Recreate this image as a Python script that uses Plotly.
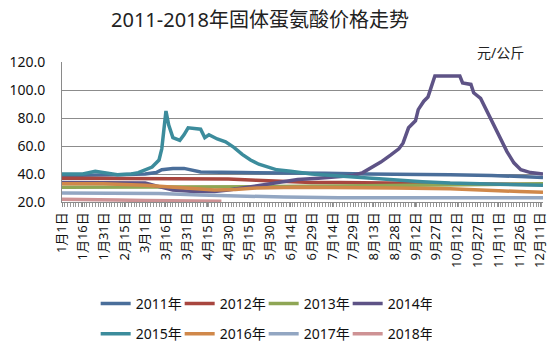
import plotly.graph_objects as go

# x = day index within year (0 = 1月1日), 15-day label interval
tick_days = [0, 15, 30, 45, 60, 75, 90, 105, 120, 135, 150, 165, 180, 195, 210, 225, 240, 255, 270, 285, 300, 315, 330, 345]
tick_labels = ["1月1日", "1月16日", "1月31日", "2月15日", "3月1日", "3月16日", "3月31日", "4月15日",
               "4月30日", "5月15日", "5月30日", "6月14日", "6月29日", "7月14日", "7月29日", "8月13日",
               "8月28日", "9月12日", "9月27日", "10月12日", "10月27日", "11月11日", "11月26日", "12月11日"]

d2011 = [0, 20, 40, 60, 68, 72, 76, 80, 88, 94, 100, 130, 160, 190, 220, 250, 280, 310, 330, 347]
v2011 = [39, 39, 39.5, 40, 41, 43, 43.5, 44, 44, 42.5, 41.5, 41, 41, 40.5, 40, 40, 39.5, 39, 38.5, 37.5]

d2012 = [0, 40, 80, 120, 140, 160, 180, 200, 240, 280, 320, 347]
v2012 = [37, 37, 37, 36.5, 35.5, 34.5, 34, 34, 33.5, 33, 33, 32.5]

d2013 = [0, 50, 100, 150, 200, 250, 300, 347]
v2013 = [30.5, 30.5, 31, 31, 31.5, 32, 32.5, 33]

d2014 = [0, 30, 60, 70, 80, 95, 110, 120, 130, 140, 155, 170, 185, 200, 210, 217, 224, 230, 237, 243,
         246, 250, 255, 257, 261, 264, 266, 269, 287, 289, 295, 297, 302, 307, 311, 316, 321, 326, 331, 338, 347]
v2014 = [34, 34, 33.5, 31, 28.5, 27.5, 27.5, 28.5, 30, 32, 34, 36, 37, 38, 39, 41, 45, 48.5, 53.5, 58,
         62, 73, 78, 86, 92, 95, 101, 110, 110, 105, 104, 98, 94, 84, 76, 66, 56, 48, 43, 41, 40]

d2015 = [0, 15, 24, 30, 40, 50, 55, 60, 65, 70, 72, 75, 77, 80, 85, 88, 91, 100, 103, 106, 112, 118, 124,
         130, 136, 142, 148, 155, 165, 180, 200, 220, 240, 260, 280, 300, 320, 347]
v2015 = [40, 40, 42, 41, 39.5, 40, 41, 43, 45, 50, 58, 85, 75, 66, 64, 68, 73, 72, 66, 68, 65, 63, 59,
         54, 50, 47, 45, 43, 42, 40, 38.5, 37, 35.5, 34.5, 33.5, 33, 32.5, 32]

d2016 = [0, 30, 60, 80, 95, 110, 125, 140, 170, 200, 240, 280, 300, 315, 330, 347]
v2016 = [33, 33, 32, 30.5, 29, 28.5, 29, 30, 30.5, 30.5, 30, 29.5, 29, 28, 27.5, 27]

d2017 = [0, 40, 70, 100, 130, 160, 200, 250, 300, 347]
v2017 = [26.5, 26.5, 26, 25, 24, 23.5, 23, 23, 23, 23]

d2018 = [0, 20, 40, 60, 80, 100, 115]
v2018 = [22, 22, 21.5, 21, 21, 20.5, 20.5]

series = [
    ("2011年", d2011, v2011, "#4A6E9A", "legend"),
    ("2012年", d2012, v2012, "#A8463F", "legend"),
    ("2013年", d2013, v2013, "#8FA655", "legend"),
    ("2014年", d2014, v2014, "#5E5386", "legend"),
    ("2015年", d2015, v2015, "#3C8C9C", "legend2"),
    ("2016年", d2016, v2016, "#D0884A", "legend2"),
    ("2017年", d2017, v2017, "#92A6C2", "legend2"),
    ("2018年", d2018, v2018, "#CE9294", "legend2"),
]

FONT = "Noto Sans, Noto Sans CJK SC, sans-serif"

fig = go.Figure()
for name, xs, ys, col, lg in series:
    fig.add_trace(go.Scatter(x=xs, y=ys, name=name, mode="lines",
                             line=dict(color=col, width=3.5), legend=lg))

legend_common = dict(orientation="h", x=0.07, xanchor="left", yanchor="top", yref="container",
                     font=dict(size=14, family=FONT, color="#111"), entrywidth=39,
                     bgcolor="rgba(0,0,0,0)", itemwidth=30)

fig.update_layout(
    width=560, height=355,
    margin=dict(l=62, r=17, t=62, b=153, autoexpand=False),
    paper_bgcolor="white", plot_bgcolor="white",
    font=dict(family=FONT, color="#222222"),
    showlegend=True,
    legend=dict(y=0.189, **legend_common),
    legend2=dict(y=0.104, **legend_common),
    annotations=[
        dict(text="2011-2018年固体蛋氨酸价格走势", x=0.412, y=1.3, xref="paper", yref="paper",
             xanchor="center", yanchor="middle",
             showarrow=False, font=dict(size=20, family=FONT, color="#222")),
        dict(text="元/公斤", x=0.965, y=1.067, xref="paper", yref="paper", xanchor="right",
             yanchor="middle", showarrow=False, font=dict(size=14, family=FONT, color="#222")),
    ],
)

fig.update_xaxes(
    range=[0, 347], tickmode="array", tickvals=tick_days, ticktext=tick_labels,
    tickangle=-90, tickfont=dict(size=13, family=FONT, color="#111"), automargin=False,
    showgrid=False, zeroline=False, showline=True, linecolor="#8a8a8a", linewidth=1,
    ticks="outside", ticklen=4, tickcolor="#8a8a8a",
    minor=dict(ticks="outside", ticklen=4, tickcolor="#9a9a9a", dtick=2, tick0=0, showgrid=False),
)
fig.update_yaxes(
    range=[20, 120], tickmode="array", tickvals=[20, 40, 60, 80, 100, 120],
    ticktext=["20.0", "40.0", "60.0", "80.0", "100.0", "120.0"],
    tickfont=dict(size=14, family=FONT, color="#111"), automargin=False,
    showgrid=True, gridcolor="#8c8c8c", gridwidth=1, zeroline=False,
    showline=True, linecolor="#8a8a8a", linewidth=1, ticks="", ticklabelstandoff=13,
)

fig.write_html("out.html", config={"displayModeBar": False},
               post_script="document.body.style.margin='0';")
